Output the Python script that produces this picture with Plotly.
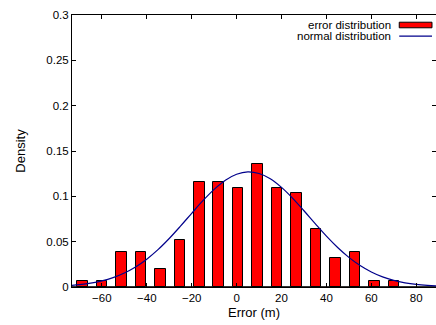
import plotly.graph_objects as go

# ---- data ----
bin_centers = [-68.7, -60.0, -51.3, -42.6, -34.0, -25.3, -16.6, -8.0, 0.7,
               9.4, 18.0, 26.7, 35.4, 44.1, 52.8, 61.4, 70.1]
densities = [0.0064, 0.0064, 0.0387, 0.0387, 0.0194, 0.0516, 0.1161, 0.1161,
             0.1097, 0.1355, 0.1097, 0.1032, 0.0645, 0.0323, 0.0387, 0.0064, 0.0064]

curve_x = [-75, -70, -65, -60, -55, -50, -45, -40, -35, -30, -25, -20, -15, -10,
           -5, 0, 5, 10, 15, 20, 25, 30, 35, 40, 45, 50, 55, 60, 65, 70, 75, 80, 85, 90]
curve_y = [0.0015, 0.0026, 0.0042, 0.0067, 0.0103, 0.0154, 0.0221, 0.0307,
           0.0412, 0.0535, 0.0671, 0.0813, 0.0952, 0.1077, 0.1178, 0.1244,
           0.1270, 0.1252, 0.1194, 0.1099, 0.0978, 0.0841, 0.0699, 0.0561,
           0.0436, 0.0327, 0.0237, 0.0166, 0.0112, 0.0073, 0.0046, 0.0028,
           0.0017, 0.0010]

legend_labels = ["error distribution", "normal distribution"]
x_title = "Error (m)"
y_title = "Density"

FONT = "Liberation Sans, Arial, Helvetica, sans-serif"
BLUE = "#00008b"

fig = go.Figure()
fig.add_trace(go.Bar(
    x=bin_centers, y=densities, width=4.7,
    marker=dict(color="#ff0000", line=dict(color="#000000", width=1)),
    name=legend_labels[0], showlegend=False,
))
fig.add_trace(go.Scatter(
    x=curve_x, y=curve_y, mode="lines",
    line=dict(color=BLUE, width=1.2, shape="spline"),
    name=legend_labels[1], showlegend=False,
))

# custom gnuplot-style legend (text right, sample left->right)
fig.add_annotation(xref="paper", yref="paper", x=0.883, y=0.964, text=legend_labels[0],
                   showarrow=False, xanchor="right", yanchor="middle",
                   font=dict(family=FONT, size=11.5, color="#000"))
fig.add_annotation(xref="paper", yref="paper", x=0.883, y=0.922, text=legend_labels[1],
                   showarrow=False, xanchor="right", yanchor="middle",
                   font=dict(family=FONT, size=11.5, color="#000"))
fig.add_shape(type="rect", xref="paper", yref="paper", x0=0.899, x1=0.989,
              y0=0.953, y1=0.9735, fillcolor="#ff0000", line=dict(color="#000", width=1))
fig.add_shape(type="line", xref="paper", yref="paper", x0=0.899, x1=0.989,
              y0=0.922, y1=0.922, line=dict(color=BLUE, width=1.2))

fig.update_layout(
    width=436, height=325,
    margin=dict(l=72, r=0, t=15, b=38),
    paper_bgcolor="white", plot_bgcolor="white",
    font=dict(family=FONT, size=11.5, color="#000"),
    bargap=0,
)
fig.update_xaxes(
    range=[-73.3, 88.8], tick0=0, dtick=20,
    ticks="inside", ticklen=4, tickcolor="#000",
    showline=True, linecolor="#000", linewidth=1, mirror="ticks",
    showgrid=False, zeroline=False,
    title=dict(text=x_title, standoff=5, font=dict(size=13)),
)
fig.update_yaxes(
    range=[0, 0.3], tick0=0, dtick=0.05,
    ticks="inside", ticklen=4, tickcolor="#000",
    showline=True, linecolor="#000", linewidth=1, mirror="ticks",
    showgrid=False, zeroline=True, zerolinecolor="#333", zerolinewidth=2,
    title=dict(text=y_title, standoff=17, font=dict(size=13)),
)

fig.write_html("out.html")
